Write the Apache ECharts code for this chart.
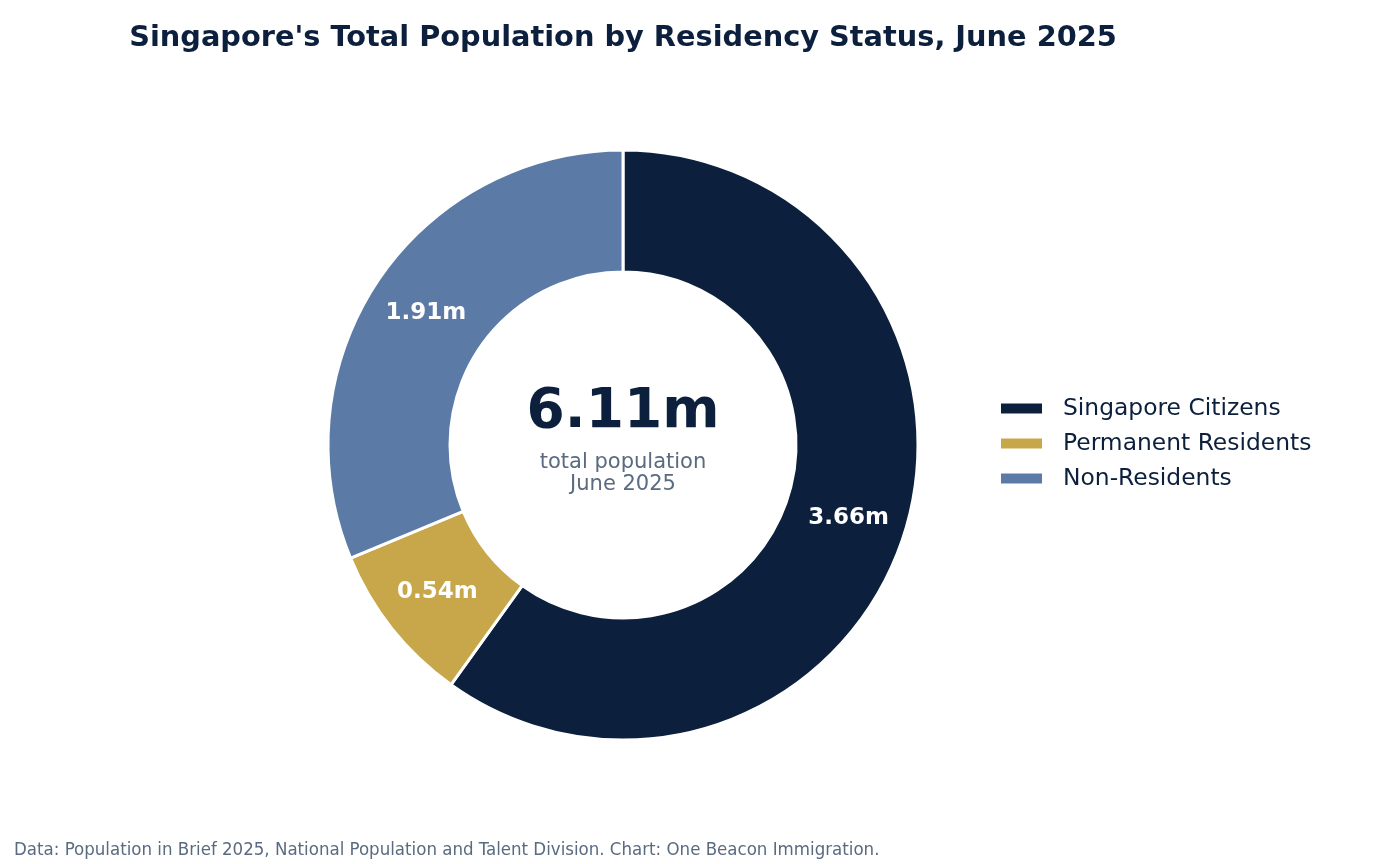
<!DOCTYPE html>
<html>
<head>
<meta charset="utf-8">
<script src="https://cdn.jsdelivr.net/npm/echarts@6/dist/echarts.min.js"></script>
<style>
html, body { margin: 0; padding: 0; background: #fff; }
#chart { width: 1376px; height: 864px; }
</style>
</head>
<body>
<div id="chart"></div>
<script>
const categories = ['Singapore Citizens', 'Permanent Residents', 'Non-Residents']
const values = [3.66, 0.54, 1.91]
const colors = ['#0c1f3c', '#c8a64a', '#5b7ba6']
const totalLabel = '6.11m'

const chart = echarts.init(document.getElementById('chart'))
const font = 'DejaVu Sans'

chart.setOption({
  animation: false,
  title: [
    {
      text: "Singapore's Total Population by Residency Status, June 2025",
      left: 623,
      top: 24,
      padding: 0,
      textAlign: 'center',
      textStyle: { fontFamily: font, fontSize: 28.8, fontWeight: 'bold', color: '#0c1f3c' },
    },
    {
      text: totalLabel,
      left: 623,
      top: 385,
      padding: 0,
      textAlign: 'center',
      textStyle: { fontFamily: font, fontSize: 55, fontWeight: 'bold', color: '#0c1f3c' },
    },
    {
      text: 'total population\nJune 2025',
      left: 623,
      top: 452,
      padding: 0,
      textAlign: 'center',
      textStyle: { fontFamily: font, fontSize: 21, fontWeight: 'normal', color: '#5a6b80', lineHeight: 22 },
    },
    {
      text: 'Data: Population in Brief 2025, National Population and Talent Division. Chart: One Beacon Immigration.',
      left: 14,
      top: 841,
      padding: 0,
      textStyle: { fontFamily: 'DejaVu Sans Condensed', fontSize: 18.5, fontWeight: 'normal', color: '#5a6b80' },
    },
  ],
  legend: {
    orient: 'vertical',
    left: 999,
    top: 397,
    padding: 0,
    itemWidth: 43,
    itemHeight: 12,
    itemGap: 12,
    icon: 'rect',
    data: categories,
    textStyle: { fontFamily: font, fontSize: 23.4, color: '#0c1f3c', padding: [0, 0, 0, 15] },
  },
  series: [
    {
      type: 'pie',
      center: [623, 445],
      radius: [173, 295],
      startAngle: 90,
      clockwise: true,
      avoidLabelOverlap: false,
      itemStyle: { borderColor: '#fff', borderWidth: 3 },
      label: {
        show: true,
        position: 'inside',
        formatter: p => p.value.toFixed(2) + 'm',
        fontFamily: font,
        fontSize: 23,
        fontWeight: 'bold',
        color: '#fff',
      },
      labelLine: { show: false },
      emphasis: { disabled: true },
      data: categories.map((name, i) => ({
        name: name,
        value: values[i],
        itemStyle: { color: colors[i] },
      })),
    },
  ],
})
</script>
</body>
</html>
